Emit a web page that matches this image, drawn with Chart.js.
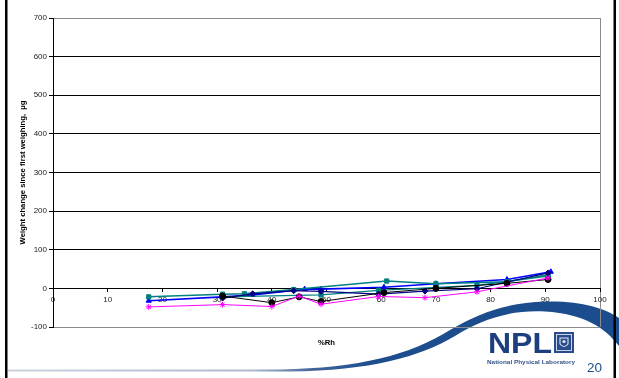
<!DOCTYPE html>
<html>
<head>
<meta charset="utf-8">
<script src="https://cdn.jsdelivr.net/npm/chart.js@4/dist/chart.umd.min.js"></script>
<style>
  html, body { margin: 0; padding: 0; background: #fff; }
  #slide { position: relative; width: 619px; height: 378px; overflow: hidden; background: #fff; }
  #back, #front { position: absolute; left: 0; top: 0; }
  #wrap { position: absolute; left: 0; top: 0; width: 619px; height: 378px; }
</style>
</head>
<body>
<div id="slide">
  <!-- slide background: bottom rule sweeping up into the blue curve -->
  <svg id="back" width="619" height="378">
    <defs>
      <linearGradient id="sweep" gradientUnits="userSpaceOnUse" x1="8" y1="0" x2="619" y2="0">
        <stop offset="0" stop-color="#cbd3df"/>
        <stop offset="0.40" stop-color="#aeb9cc"/>
        <stop offset="0.50" stop-color="#3f6399"/>
        <stop offset="0.60" stop-color="#1d4d8d"/>
        <stop offset="1" stop-color="#1b4c8d"/>
      </linearGradient>
    </defs>
    <path fill="url(#sweep)" d="M 8 369.4 L 280 369.4 C 360 368, 410 355, 450 330 C 480 312, 510 302.5, 545 301.5 C 580 300.5, 605 308, 619 318 L 619 346 C 605 328, 585 314, 545 311.5 C 510 309.5, 480 320, 455 336 C 420 357, 370 370.5, 290 371.6 L 8 371.6 Z"/>
  </svg>

  <div id="wrap"><canvas id="c"></canvas></div>

  <!-- slide frame, logo and page number -->
  <svg id="front" width="619" height="378">
    <rect x="5" y="0" width="2.5" height="378" fill="#000"/>
    <rect x="613.5" y="0" width="2.5" height="378" fill="#000"/>
    <text x="488" y="353" font-family="Liberation Sans, Arial, sans-serif" font-weight="bold" font-size="29" fill="#1e3f7e" textLength="64" lengthAdjust="spacingAndGlyphs">NPL</text>
    <rect x="554" y="332" width="20" height="21" fill="#2a4c8c"/>
    <rect x="556.5" y="334.5" width="15" height="16" fill="none" stroke="#c9d3e6" stroke-width="1"/>
    <path d="M 560 338 L 568 338 L 568 344 Q 564 349 560 344 Z" fill="none" stroke="#dfe6f2" stroke-width="1.1"/>
    <circle cx="564" cy="341.5" r="1.6" fill="#dfe6f2"/>
    <text x="487" y="363.5" font-family="Liberation Sans, Arial, sans-serif" font-weight="bold" font-size="5.6" fill="#34528a" textLength="88" lengthAdjust="spacingAndGlyphs">National Physical Laboratory</text>
    <text x="587" y="372" font-family="Liberation Sans, Arial, sans-serif" font-size="13.5" fill="#1f4e8c">20</text>
  </svg>
</div>

<script>
// Relative humidity (%Rh) against weight change (µg), one list per specimen
const magenta = [[17.5, -48], [31, -42], [40, -47], [45, -20], [49, -41], [59.5, -21], [68, -24], [77.5, -9], [90.5, 27]];
const black   = [[31, -20], [40, -37], [45, -22], [49, -34], [60.5, -11], [70, 0], [83, 13], [90.5, 23]];
const navy    = [[31, -25], [36.5, -14], [44, -6], [49, -8], [59.5, -15], [68, -7], [77.5, -1], [90.5, 40]];
const tealB   = [[31, -22], [49, -17], [59.5, -5], [77.5, 8], [90.5, 32]];
const tealA   = [[17.5, -22], [31, -15], [35, -14], [44, -3], [61, 19], [70, 12], [83, 17], [90.5, 35]];
const blue    = [[17.5, -32], [31, -22], [36.5, -17], [46, -2], [49, -2], [60.5, 3], [70, 12], [83, 23], [91, 43]];

// axis ranges
const rhRange = [0, 100];
const rhStep = 10;
const weightRange = [-100, 700];
const weightStep = 100;

const toXY = arr => arr.map(([x, y]) => ({ x, y }));

function series(data, color, style, width) {
  return {
    data: toXY(data),
    borderColor: color,
    backgroundColor: color,
    borderWidth: width,
    pointStyle: style,
    pointRadius: 3,
    pointBorderWidth: 1,
    pointBorderColor: color,
    pointBackgroundColor: color,
    tension: 0,
    fill: false
  };
}

const FONT = 'Liberation Sans, Arial, sans-serif';

new Chart(document.getElementById('c'), {
  type: 'line',
  data: {
    datasets: [
      series(magenta, '#ff00ff', 'star', 1),
      series(black, '#000000', 'circle', 1),
      series(navy, '#000080', 'rectRot', 1.2),
      series(tealB, '#008080', 'rect', 1.3),
      series(tealA, '#008080', 'rect', 1.5),
      series(blue, '#0000ff', 'triangle', 1.6)
    ]
  },
  options: {
    responsive: true,
    maintainAspectRatio: false,
    animation: false,
    events: [],
    layout: { padding: { left: 0, top: 18, right: 19, bottom: 51 } },
    plugins: { legend: { display: false }, tooltip: { enabled: false } },
    scales: {
      x: {
        type: 'linear',
        position: { y: 0 },
        min: rhRange[0],
        max: rhRange[1],
        ticks: { stepSize: rhStep, color: '#222', font: { family: FONT, size: 8 }, padding: 4, maxRotation: 0 },
        grid: {
          drawOnChartArea: true,
          color: c => (c.tick && c.tick.value === rhRange[1]) ? '#8c8c8c' : 'rgba(0,0,0,0)',
          tickColor: '#000',
          tickLength: 3,
          lineWidth: 1
        },
        border: { display: true, color: '#000', width: 1 },
        title: { display: true, text: '%Rh', color: '#000', font: { family: FONT, size: 7.7, weight: 'bold' }, padding: { top: 29, bottom: 0 } }
      },
      y: {
        min: weightRange[0],
        max: weightRange[1],
        ticks: { stepSize: weightStep, color: '#222', font: { family: FONT, size: 8 }, padding: 2 },
        grid: {
          color: c => (c.tick && (c.tick.value === weightRange[0] || c.tick.value === weightRange[1])) ? '#8c8c8c' : '#000',
          tickColor: '#000',
          tickLength: 4,
          lineWidth: 1
        },
        border: { display: true, color: '#000', width: 1 },
        title: { display: true, text: 'Weight change since first weighing,  µg', color: '#000', font: { family: FONT, size: 7.7, weight: 'bold' }, padding: { top: 18.5, bottom: 0 } },
        afterFit: s => { s.width = 53; }
      }
    }
  }
});
</script>
</body>
</html>
